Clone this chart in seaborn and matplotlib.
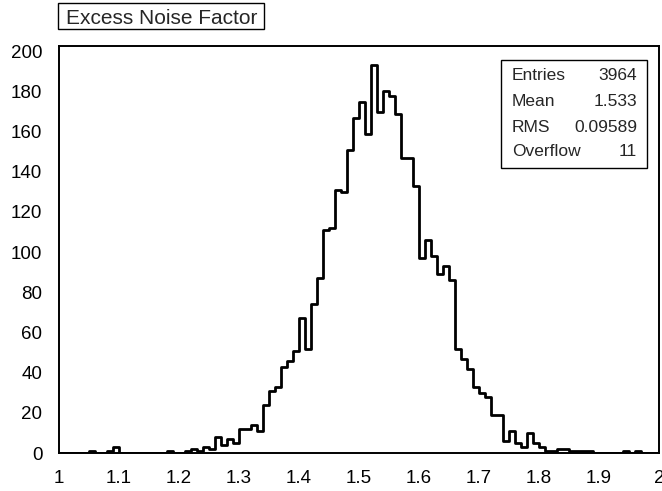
import numpy as np
import pandas as pd
import matplotlib
matplotlib.use("Agg")
import matplotlib.pyplot as plt
from matplotlib.patches import Rectangle
from matplotlib.ticker import MultipleLocator, FuncFormatter
import seaborn as sns

# Histogram of the excess noise factor: 100 bins from 1.0 to 2.0
x_min, x_max, n_bins = 1.0, 2.0, 100
counts = [
    0, 0, 0, 0, 0, 1, 0, 0, 1, 3,
    0, 0, 0, 0, 0, 0, 0, 0, 1, 0,
    0, 1, 2, 1, 3, 2, 8, 4, 7, 5,
    12, 12, 14, 11, 24, 31, 33, 43, 46, 51,
    67, 52, 74, 87, 111, 112, 131, 130, 151, 167,
    175, 159, 193, 170, 180, 178, 169, 147, 147, 133,
    97, 106, 98, 89, 93, 86, 52, 47, 42, 33,
    30, 28, 19, 19, 6, 11, 5, 3, 10, 5,
    3, 1, 1, 2, 2, 1, 1, 1, 1, 0,
    0, 0, 0, 0, 1, 0, 1, 0, 0, 0,
]
title = "Excess Noise Factor"
stat_names = ["Entries", "Mean", "RMS", "Overflow"]
stat_values = ["3964", "1.533", "0.09589", "11"]

edges = np.linspace(x_min, x_max, n_bins + 1)
centers = 0.5 * (edges[:-1] + edges[1:])
df = pd.DataFrame({"enf": centers, "count": counts})

sns.set_style("white")
plt.rcParams["font.family"] = ["Liberation Sans", "DejaVu Sans"]

W, H = 662, 491
fig = plt.figure(figsize=(W / 100, H / 100), dpi=100)
ax = fig.add_axes([59 / W, 1 - 453 / H, 600 / W, 407 / H])

sns.histplot(data=df, x="enf", weights="count", bins=n_bins,
             binrange=(x_min, x_max), element="step", fill=False,
             color="black", linewidth=2.0, ax=ax)

ax.set_xlim(x_min, x_max)
ax.set_ylim(0, 1.05 * max(counts))
ax.set_xlabel("")
ax.set_ylabel("")

ax.xaxis.set_major_locator(MultipleLocator(0.1))
ax.xaxis.set_minor_locator(MultipleLocator(0.02))
ax.yaxis.set_major_locator(MultipleLocator(20))
ax.yaxis.set_minor_locator(MultipleLocator(5))
ax.xaxis.set_major_formatter(FuncFormatter(lambda v, p: f"{v:g}"))

ax.tick_params(axis="x", which="major", direction="in", length=8.5, width=1.1,
               pad=12, labelsize=13.5, colors="black")
ax.tick_params(axis="x", which="minor", direction="in", length=4.2, width=1.1)
ax.tick_params(axis="y", which="major", direction="in", length=12.5, width=1.1,
               pad=12, labelsize=13.5, colors="black")
ax.tick_params(axis="y", which="minor", direction="in", length=6.2, width=1.1)
ax.tick_params(top=False, right=False)

for s in ax.spines.values():
    s.set_visible(True)
    s.set_color("black")
    s.set_linewidth(1.4)

# Title with a frame sized to the text
t = fig.text(66 / W, 1 - 23.5 / H, title, fontsize=15, ha="left", va="baseline")
fig.canvas.draw()
tx1 = t.get_window_extent().x1
fig.patches.append(Rectangle((58 / W, 1 - 29 / H), (tx1 + 7 - 58) / W, 26 / H,
                             transform=fig.transFigure, fc="none", ec="black",
                             lw=1.0, zorder=5))

# Statistics box
bx0, by0, bx1, by1 = 501, 60, 647, 168
fig.patches.append(Rectangle((bx0 / W, 1 - by1 / H), (bx1 - bx0) / W,
                             (by1 - by0) / H, transform=fig.transFigure,
                             fc="white", ec="black", lw=1.0, zorder=5))
row_y = [76, 101.5, 127, 151.5]
for name, val, yy in zip(stat_names, stat_values, row_y):
    fig.text(512 / W, 1 - yy / H, name, fontsize=12.5, ha="left", va="center", zorder=6)
    fig.text(637 / W, 1 - yy / H, val, fontsize=12.5, ha="right", va="center", zorder=6)

fig.savefig("out.png", dpi=100, facecolor="white")
